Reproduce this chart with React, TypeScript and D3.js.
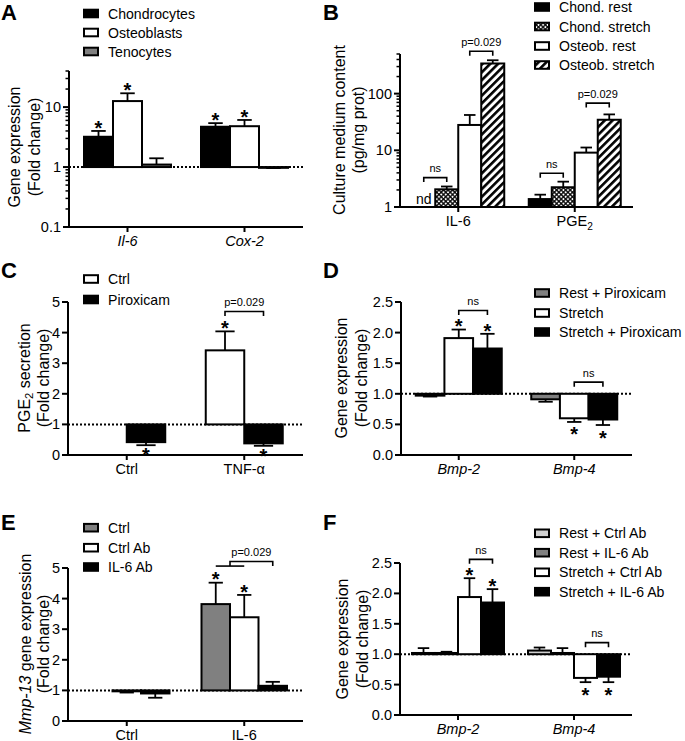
import React from "react";
import * as d3 from "d3";

const FONT = "Arial, 'Liberation Sans', Helvetica, sans-serif";

// ---------------- Panel A ----------------
const aCategories = ["Il-6", "Cox-2"];
const aSeries = ["Chondrocytes", "Osteoblasts", "Tenocytes"];
const aMeans = [[3.2, 4.7], [12.6, 4.8], [1.1, 0.97]];
const aErrors = [[4.0, 5.4], [17, 6.1], [1.4, 0.96]];
const aTicks = [0.1, 1, 10];
const aTickLabels = ["0.1", "1", "10"];
const aStars = [[0, 0], [1, 0], [0, 1], [1, 1]];

// ---------------- Panel B ----------------
const bCategories = ["IL-6", "PGE_{2}"];
const bSeries = ["Chond. rest", "Chond. stretch", "Osteob. rest", "Osteob. stretch"];
const bMeans = [[null, 1.38], [2.05, 2.23], [28, 9.1], [340, 34.6]];
const bErrors = [[null, 1.65], [2.3, 2.8], [42, 11.2], [388, 43]];
const bTicks = [1, 10, 100];
const bTickLabels = ["1", "10", "100"];
const bNotDetected = [[0, 0]];
const bBrackets = [
  { c: 0, a: 0, b: 1, y: 3.3, label: "ns" },
  { c: 0, a: 2, b: 3, y: 560, label: "p=0.029" },
  { c: 1, a: 0, b: 1, y: 3.95, label: "ns" },
  { c: 1, a: 2, b: 3, y: 68, label: "p=0.029" },
];

// ---------------- Panel C ----------------
const cCategories = ["Ctrl", "TNF-α"];
const cSeries = ["Ctrl", "Piroxicam"];
const cMeans = [[1, 3.42], [0.42, 0.38]];
const cErrors = [[1, 4.04], [0.32, 0.3]];
const cTicks = [0, 1, 2, 3, 4, 5];
const cTickLabels = ["0", "1", "2", "3", "4", "5"];
const cStars = [[1, 0], [1, 1], [0, 1]];
const cBrackets = [{ c: 1, a: 0, b: 1, y: 4.69, label: "p=0.029" }];

// ---------------- Panel D ----------------
const dCategories = ["Bmp-2", "Bmp-4"];
const dSeries = ["Rest + Piroxicam", "Stretch", "Stretch + Piroxicam"];
const dMeans = [[0.97, 0.91], [1.91, 0.6], [1.74, 0.58]];
const dErrors = [[0.955, 0.87], [2.05, 0.54], [1.98, 0.49]];
const dTicks = [0, 0.5, 1, 1.5, 2, 2.5];
const dTickLabels = ["0.0", "0.5", "1.0", "1.5", "2.0", "2.5"];
const dStars = [[1, 0], [2, 0], [1, 1], [2, 1]];
const dBrackets = [
  { c: 0, a: 1, b: 2, y: 2.36, label: "ns" },
  { c: 1, a: 1, b: 2, y: 1.19, label: "ns" },
];

// ---------------- Panel E ----------------
const eCategories = ["Ctrl", "IL-6"];
const eSeries = ["Ctrl", "Ctrl Ab", "IL-6 Ab"];
const eMeans = [[1, 3.82], [0.97, 3.39], [0.9, 1.15]];
const eErrors = [[1, 4.52], [0.93, 4.12], [0.76, 1.28]];
const eTicks = [0, 1, 2, 3, 4, 5];
const eTickLabels = ["0", "1", "2", "3", "4", "5"];
const eStars = [[0, 1], [1, 1]];
const eBrackets = [{ c: 1, a: 0.5, b: 2, y: 5.21, label: "p=0.029", sub: [0, 1] }];

// ---------------- Panel F ----------------
const fCategories = ["Bmp-2", "Bmp-4"];
const fSeries = ["Rest + Ctrl Ab", "Rest + IL-6 Ab", "Stretch + Ctrl Ab", "Stretch + IL-6 Ab"];
const fMeans = [[1.02, 1.06], [1.02, 1.02], [1.94, 0.61], [1.85, 0.63]];
const fErrors = [[1.1, 1.11], [1.04, 1.1], [2.25, 0.54], [2.07, 0.54]];
const fTicks = [0, 0.5, 1, 1.5, 2, 2.5];
const fTickLabels = ["0.0", "0.5", "1.0", "1.5", "2.0", "2.5"];
const fStars = [[2, 0], [3, 0], [2, 1], [3, 1]];
const fBrackets = [
  { c: 0, a: 2, b: 3, y: 2.56, label: "ns" },
  { c: 1, a: 2, b: 3, y: 1.19, label: "ns" },
];

// ---------------- helpers ----------------
type Seg = { t: string; sub?: boolean; it?: boolean };
function parseRich(s: string): Seg[] {
  const parts = s.split(/(_\{[^}]*\}|\*[^*]*\*)/).filter((x) => x.length > 0);
  return parts.map((p) => {
    if (p.startsWith("_{")) return { t: p.slice(2, -1), sub: true };
    if (p.startsWith("*") && p.endsWith("*") && p.length > 1) return { t: p.slice(1, -1), it: true };
    return { t: p };
  });
}
function RichSpans({ text, size }: { text: string; size: number }) {
  const segs = parseRich(text);
  const out: React.ReactNode[] = [];
  let shifted = false;
  segs.forEach((s, i) => {
    let dy = 0;
    if (s.sub && !shifted) { dy = size * 0.3; shifted = true; }
    else if (!s.sub && shifted) { dy = -size * 0.3; shifted = false; }
    out.push(
      <tspan key={i} dy={dy || undefined} fontSize={s.sub ? size * 0.7 : undefined} fontStyle={s.it ? "italic" : undefined}>
        {s.t}
      </tspan>
    );
  });
  return <>{out}</>;
}

type Bracket = { c: number; a: number; b: number; y: number; label: string; sub?: number[] };
interface PanelProps {
  letter: string; lx: number; ly: number;
  x0: number; x1: number; yB: number; yT: number;
  log: boolean; domain: [number, number];
  ticks: number[]; tickLabels: string[];
  categories: string[]; catItalic: boolean;
  series: string[]; fills: string[];
  means: (number | null)[][]; errors: (number | null)[][];
  groupWidth: number;
  stars: number[][]; starBelowDy: number;
  brackets: Bracket[];
  nd?: number[][];
  legendX: number; legendY: number[];
  title: string[]; titleX: number[]; titleY: number;
  refLine: boolean;
}

function Panel(p: PanelProps) {
  const y: any = (p.log ? d3.scaleLog() : d3.scaleLinear()).domain(p.domain).range([p.yB, p.yT]);
  const x = d3.scaleBand<string>().domain(p.categories).range([p.x0, p.x1]);
  const bw = p.groupWidth / p.series.length;
  const cx = (c: number) => (x(p.categories[c]) as number) + x.bandwidth() / 2;
  const left = (s: number, c: number) => cx(c) - p.groupWidth / 2 + s * bw;
  const mid = (s: number, c: number) => left(s, c) + bw / 2;
  const base = y(1);
  const minor: number[] = p.log
    ? (y.ticks() as number[]).filter((t) => !p.ticks.some((m) => Math.abs(m - t) / t < 1e-6))
    : [];
  const sw = 2;

  return (
    <g fontFamily={FONT} fill="#000">
      <text x={p.lx} y={p.ly} fontSize={22} fontWeight="bold">{p.letter}</text>

      {p.title.map((t, i) => (
        <text key={i} transform={`translate(${p.titleX[i]},${p.titleY}) rotate(-90)`} textAnchor="middle"
          dominantBaseline="central" fontSize={16}>
          <RichSpans text={t} size={16} />
        </text>
      ))}

      {p.refLine && (
        <line x1={p.x0} x2={p.x1} y1={base} y2={base} stroke="#000" strokeWidth={2} strokeDasharray="2 2" />
      )}

      {p.series.map((_, s) =>
        p.categories.map((__, c) => {
          const v = p.means[s][c];
          if (v == null || Math.abs(v - 1) < 1e-9) return null;
          const yv = y(v);
          return (
            <rect key={`b${s}-${c}`} x={left(s, c)} y={Math.min(yv, base)} width={bw}
              height={Math.abs(yv - base)} fill={p.fills[s]} stroke="#000" strokeWidth={sw} />
          );
        })
      )}

      {p.series.map((_, s) =>
        p.categories.map((__, c) => {
          const v = p.means[s][c];
          const e = p.errors[s][c];
          if (v == null || e == null || Math.abs(e - v) < 1e-9) return null;
          const m = mid(s, c);
          return (
            <g key={`e${s}-${c}`} stroke="#000" strokeWidth={1.8}>
              <line x1={m} x2={m} y1={y(v)} y2={y(e)} />
              <line x1={m - bw * 0.25} x2={m + bw * 0.25} y1={y(e)} y2={y(e)} />
            </g>
          );
        })
      )}

      <g stroke="#000" strokeWidth={2}>
        <line x1={p.x0} x2={p.x0} y1={p.yB + 1} y2={p.yT} />
        <line x1={p.x0 - 1} x2={p.x1} y1={p.yB} y2={p.yB} />
        {p.ticks.map((t, i) => (
          <line key={`t${i}`} x1={p.x0 - 6} x2={p.x0} y1={y(t)} y2={y(t)} />
        ))}
        {minor.map((t, i) => (
          <line key={`m${i}`} x1={p.x0 - 3.5} x2={p.x0} y1={y(t)} y2={y(t)} strokeWidth={1.5} />
        ))}
        {p.categories.map((_, c) => (
          <line key={`xt${c}`} x1={cx(c)} x2={cx(c)} y1={p.yB} y2={p.yB + 5} />
        ))}
      </g>
      {p.ticks.map((t, i) => (
        <text key={`tl${i}`} x={p.x0 - 8} y={y(t)} textAnchor="end" dominantBaseline="central" fontSize={14.5}>
          {p.tickLabels[i]}
        </text>
      ))}
      {p.categories.map((cat, c) => (
        <text key={`cl${c}`} x={cx(c)} y={p.yB + 19} textAnchor="middle" fontSize={14.5}
          fontStyle={p.catItalic ? "italic" : undefined}>
          <RichSpans text={cat} size={14.5} />
        </text>
      ))}

      {(p.nd || []).map(([s, c], i) => (
        <text key={`nd${i}`} x={mid(s, c)} y={p.yB - 3} textAnchor="middle" fontSize={14}>nd</text>
      ))}

      {p.stars.map(([s, c], i) => {
        const v = p.means[s][c] as number;
        const e = p.errors[s][c] as number;
        const below = v < 1;
        const yy = below ? y(e) + p.starBelowDy : y(e) + 3.8;
        return (
          <text key={`s${i}`} x={mid(s, c)} y={yy} textAnchor="middle" fontSize={20} fontWeight="bold">*</text>
        );
      })}

      {p.brackets.map((b, i) => {
        const x1 = mid(b.a, b.c);
        const x2 = mid(b.b, b.c);
        const yy = y(b.y);
        return (
          <g key={`br${i}`}>
            <path d={`M${x1},${yy + 4.5}V${yy}H${x2}V${yy + 4.5}`} fill="none" stroke="#000" strokeWidth={1.6} />
            {b.sub && (
              <line x1={mid(b.sub[0], b.c)} x2={mid(b.sub[1], b.c)} y1={yy + 4.5} y2={yy + 4.5}
                stroke="#000" strokeWidth={1.6} />
            )}
            <text x={(x1 + x2) / 2} y={yy - 5.5} textAnchor="middle" fontSize={11}>{b.label}</text>
          </g>
        );
      })}

      {p.series.map((n, i) => (
        <g key={`lg${i}`}>
          <rect x={p.legendX + 1} y={p.legendY[i] - 3.8} width={14} height={7.6} fill={p.fills[i]}
            stroke="#000" strokeWidth={2} />
          <text x={p.legendX + 25} y={p.legendY[i]} dominantBaseline="central" fontSize={14.1}>{n}</text>
        </g>
      ))}
    </g>
  );
}

export default function App() {
  const gray = "#808080";
  const light = "#d0d0d0";
  return (
    <svg width={685} height={741} style={{ position: "absolute", left: 0, top: 0, background: "#fff" }}>
      <defs>
        <pattern id="checker" width={3.2} height={3.2} patternUnits="userSpaceOnUse" patternTransform="rotate(45)">
          <rect width={3.2} height={3.2} fill="#000" />
          <rect x={0.6} y={0.6} width={1.9} height={1.9} fill="#fff" />
        </pattern>
        <pattern id="hatch" width={5.5} height={5.5} patternUnits="userSpaceOnUse" patternTransform="rotate(45)">
          <rect width={5.5} height={5.5} fill="#fff" />
          <rect width={2.6} height={5.5} fill="#000" />
        </pattern>
      </defs>

      <Panel letter="A" lx={1} ly={20} x0={69} x1={303} yB={227} yT={71} log={true} domain={[0.1, 40]}
        ticks={aTicks} tickLabels={aTickLabels} categories={aCategories} catItalic={true}
        series={aSeries} fills={["#000", "#fff", gray]} means={aMeans} errors={aErrors} groupWidth={87}
        stars={aStars} starBelowDy={18} brackets={[]} legendX={83} legendY={[13.5, 32.5, 51.5]}
        title={["Gene expression", "(Fold change)"]} titleX={[14, 34]} titleY={147} refLine={true} />

      <Panel letter="B" lx={323} ly={20} x0={400} x1={633} yB={207} yT={54} log={true} domain={[1, 500]}
        ticks={bTicks} tickLabels={bTickLabels} categories={bCategories} catItalic={false}
        series={bSeries} fills={["#000", "url(#checker)", "#fff", "url(#hatch)"]} means={bMeans}
        errors={bErrors} groupWidth={92} stars={[]} starBelowDy={18} brackets={bBrackets} nd={bNotDetected}
        legendX={534} legendY={[7, 26.5, 46, 65]}
        title={["Culture medium content", "(pg/mg prot)"]} titleX={[339, 358]} titleY={130} refLine={false} />

      <Panel letter="C" lx={1} ly={278} x0={68} x1={303} yB={455} yT={302} log={false} domain={[0, 5]}
        ticks={cTicks} tickLabels={cTickLabels} categories={cCategories} catItalic={false}
        series={cSeries} fills={["#fff", "#000"]} means={cMeans} errors={cErrors} groupWidth={77}
        stars={cStars} starBelowDy={17} brackets={cBrackets} legendX={83} legendY={[279, 299.5]}
        title={["PGE_{2} secretion", "(Fold change)"]} titleX={[24, 43]} titleY={378} refLine={true} />

      <Panel letter="D" lx={323} ly={278} x0={401} x1={632} yB={455} yT={302} log={false} domain={[0, 2.5]}
        ticks={dTicks} tickLabels={dTickLabels} categories={dCategories} catItalic={true}
        series={dSeries} fills={[gray, "#fff", "#000"]} means={dMeans} errors={dErrors} groupWidth={86}
        stars={dStars} starBelowDy={19.5} brackets={dBrackets} legendX={534} legendY={[293, 313, 332]}
        title={["Gene expression", "(Fold change)"]} titleX={[341, 361]} titleY={378} refLine={true} />

      <Panel letter="E" lx={1} ly={530} x0={68} x1={303} yB={721} yT={568} log={false} domain={[0, 5]}
        ticks={eTicks} tickLabels={eTickLabels} categories={eCategories} catItalic={false}
        series={eSeries} fills={[gray, "#fff", "#000"]} means={eMeans} errors={eErrors} groupWidth={85.5}
        stars={eStars} starBelowDy={18} brackets={eBrackets} legendX={83} legendY={[527.7, 547.7, 567]}
        title={["*Mmp-13* gene expression", "(Fold change)"]} titleX={[25, 43]} titleY={644} refLine={true} />

      <Panel letter="F" lx={323} ly={530} x0={400} x1={632} yB={715} yT={563} log={false} domain={[0, 2.5]}
        ticks={fTicks} tickLabels={fTickLabels} categories={fCategories} catItalic={true}
        series={fSeries} fills={[light, gray, "#fff", "#000"]} means={fMeans} errors={fErrors} groupWidth={92}
        stars={fStars} starBelowDy={20} brackets={fBrackets} legendX={534} legendY={[533.3, 552.7, 572.3, 591.7]}
        title={["Gene expression", "(Fold change)"]} titleX={[342, 362]} titleY={639} refLine={true} />
    </svg>
  );
}
